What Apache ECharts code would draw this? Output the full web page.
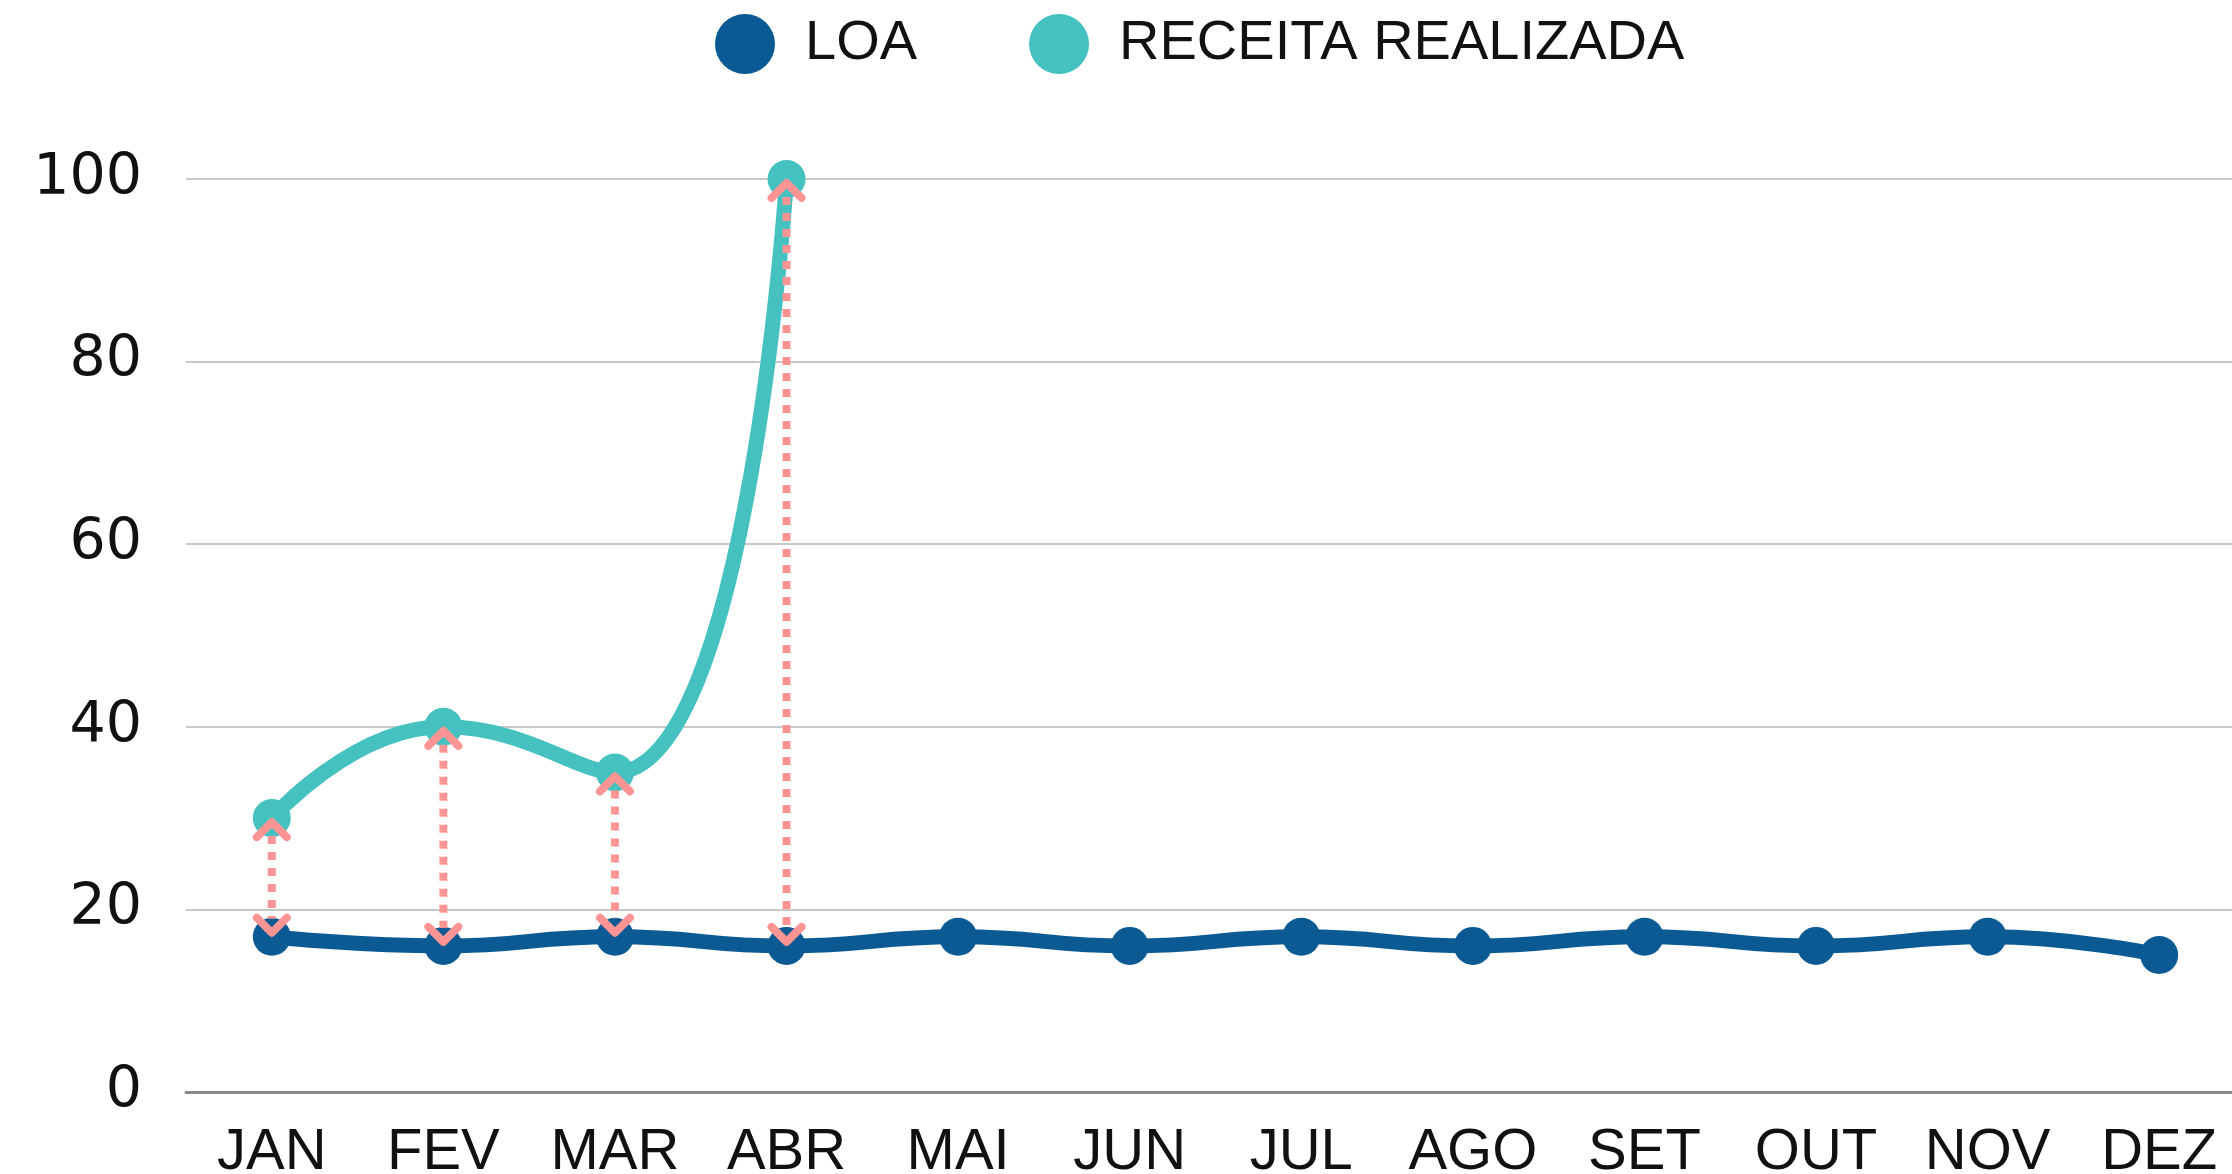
<!DOCTYPE html>
<html><head><meta charset="utf-8">
<script src="https://cdn.jsdelivr.net/npm/echarts@6/dist/echarts.min.js"></script>
<style>html,body{margin:0;padding:0;background:#fff}#c{width:2232px;height:1174px}</style>
</head><body><div id="c"></div>
<script>
var months = ['JAN','FEV','MAR','ABR','MAI','JUN','JUL','AGO','SET','OUT','NOV','DEZ'];
var loa = [17,16,17,16,17,16,17,16,17,16,17,15];
var receita = [30,40,35,100,null,null,null,null,null,null,null,null];
var yTicks = [0,20,40,60,80,100];

var BLUE = '#0B5A94', TEAL = '#45C1C0', PINK = '#FF9494';

var gapData = [];
for (var i = 0; i < months.length; i++) {
  if (receita[i] != null) gapData.push([i, receita[i], loa[i]]);
}

var chart = echarts.init(document.getElementById('c'));
chart.setOption({
  animation: false,
  legend: {
    left: 710, top: 9,
    itemWidth: 60, itemHeight: 60, itemGap: 112,
    icon: 'circle',
    data: ['LOA','RECEITA REALIZADA'],
    textStyle: {fontFamily: 'Liberation Sans', fontSize: 56, color: '#111', padding: [12,0,0,25]}
  },
  grid: {left: 186, width: 2059, top: 179, bottom: 82, containLabel: false, outerBoundsMode: 'none'},
  xAxis: {
    type: 'category', data: months, boundaryGap: true,
    axisLine: {lineStyle: {color: '#8a8a8a', width: 3}},
    axisTick: {show: false},
    axisLabel: {fontFamily: 'Liberation Sans', fontSize: 58, color: '#111', margin: 32}
  },
  yAxis: {
    type: 'value', min: 0, max: 100, interval: 20,
    axisLine: {show: false}, axisTick: {show: false},
    splitLine: {lineStyle: {color: '#c8c8c8', width: 2}},
    axisLabel: {fontFamily: 'DejaVu Sans', fontSize: 57, color: '#111', margin: 44,
      formatter: function(v){ return yTicks.indexOf(v) >= 0 ? String(v) : ''; }}
  },
  series: [
    {
      name: 'LOA', type: 'line', data: loa, smooth: 0.5,
      symbol: 'circle', symbolSize: 38,
      itemStyle: {color: BLUE},
      lineStyle: {color: BLUE, width: 15},
      z: 2
    },
    {
      name: 'RECEITA REALIZADA', type: 'line', data: receita, smooth: 0.5,
      symbol: 'circle', symbolSize: 38, connectNulls: false,
      itemStyle: {color: TEAL},
      lineStyle: {color: TEAL, width: 15},
      z: 3
    },
    {
      name: 'gap', type: 'custom', data: gapData, z: 10, silent: true,
      renderItem: function(params, api) {
        var top = api.coord([api.value(0), api.value(1)]);
        var bot = api.coord([api.value(0), api.value(2)]);
        var x = top[0];
        var t = top[1] + 4, b = bot[1] - 4;
        var hw = 15, hh = 15;
        var st = {stroke: PINK, lineWidth: 8, fill: null, lineCap: 'round', lineJoin: 'round'};
        return {
          type: 'group',
          children: [
            {type: 'line', shape: {x1: x, y1: t + 14, x2: x, y2: b - 14},
             style: {stroke: PINK, lineWidth: 8, lineDash: [8, 8], lineCap: 'butt'}},
            {type: 'polyline', shape: {points: [[x - hw, t + hh], [x, t], [x + hw, t + hh]]}, style: st},
            {type: 'polyline', shape: {points: [[x - hw, b - hh], [x, b], [x + hw, b - hh]]}, style: st}
          ]
        };
      }
    }
  ]
});
</script></body></html>
